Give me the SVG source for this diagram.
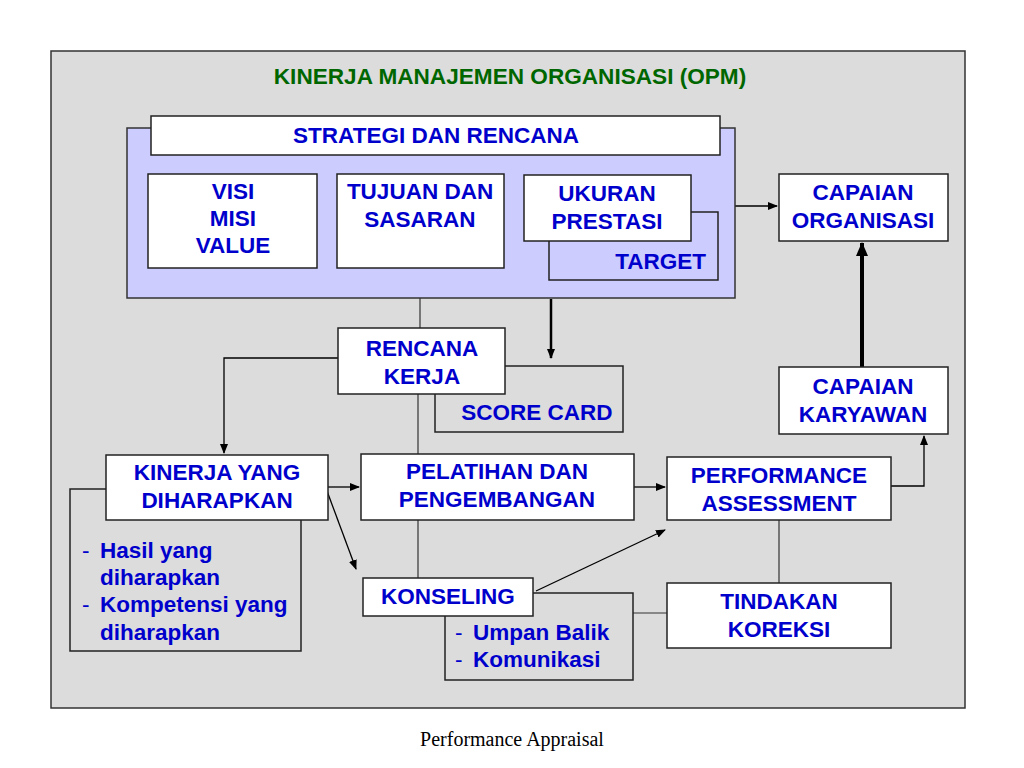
<svg xmlns="http://www.w3.org/2000/svg" width="1024" height="768" viewBox="0 0 1024 768">
<defs>
<marker id="ah" markerWidth="10" markerHeight="8" refX="9" refY="4" orient="auto" markerUnits="userSpaceOnUse"><path d="M0,0 L10,4 L0,8 z" fill="#000"/></marker>
<marker id="ahb" markerWidth="14" markerHeight="12" refX="13" refY="6" orient="auto" markerUnits="userSpaceOnUse"><path d="M0,0 L14,6 L0,12 z" fill="#000"/></marker>
<style>
.box{fill:#fff;stroke:#222;stroke-width:1.5}
.gbox{fill:#dcdcdc;stroke:#222;stroke-width:1.5}
.t{font-family:"Liberation Sans",Arial,sans-serif;font-weight:bold;font-size:22.5px;fill:#0000cc;text-anchor:middle}
.l{font-family:"Liberation Sans",Arial,sans-serif;font-weight:bold;font-size:22.5px;fill:#0000cc}
.d{font-family:"Liberation Sans",Arial,sans-serif;font-size:22.5px;fill:#0000cc}
.c{fill:none;stroke:#000;stroke-width:1.3}
.cg{fill:none;stroke:#333;stroke-width:1.2}
</style>
</defs>
<rect x="0" y="0" width="1024" height="768" fill="#fff"/>
<rect x="51" y="51" width="914" height="657" fill="#dcdcdc" stroke="#333" stroke-width="1.5"/>
<text x="510" y="84" font-family="Liberation Sans,Arial,sans-serif" font-weight="bold" font-size="22.6" fill="#006600" text-anchor="middle">KINERJA MANAJEMEN ORGANISASI (OPM)</text>

<g id="connectors">
<line class="cg" x1="420" y1="298" x2="420" y2="328"/>
<line class="cg" x1="418" y1="394" x2="418" y2="578"/>
<line class="cg" x1="779" y1="520" x2="779" y2="583"/>
<line class="cg" x1="633" y1="613" x2="667" y2="613"/>
<path class="c" d="M735,206 L777,206" marker-end="url(#ah)"/>
<path d="M862,367 L862,243" fill="none" stroke="#000" stroke-width="4" marker-end="url(#ahb)"/>
<path d="M551,299 L551,358" fill="none" stroke="#000" stroke-width="2.5" marker-end="url(#ah)"/>
<path class="c" d="M338,358 L224,358 L224,453" marker-end="url(#ah)"/>
<path class="c" d="M328,487 L359,487" marker-end="url(#ah)"/>
<path class="c" d="M327,491 L356,569" marker-end="url(#ah)"/>
<path class="c" d="M634,487 L665,487" marker-end="url(#ah)"/>
<path class="c" d="M891,486 L924,486 L924,436" marker-end="url(#ah)"/>
<path class="c" d="M536,591 L665,530" marker-end="url(#ah)"/>
</g>

<g id="strategi">
<rect x="127" y="128" width="608" height="170" fill="#ccccff" stroke="#333" stroke-width="1.5"/>
<rect class="box" x="151" y="116" width="569" height="39"/>
<text class="t" x="436" y="143">STRATEGI DAN RENCANA</text>
</g>
<g id="visi">
<rect class="box" x="148" y="174" width="169" height="94"/>
<text class="t" x="233" y="199">VISI</text>
<text class="t" x="233" y="226">MISI</text>
<text class="t" x="233" y="253">VALUE</text>
</g>
<g id="tujuan">
<rect class="box" x="337" y="174" width="167" height="94"/>
<text class="t" x="420" y="199">TUJUAN DAN</text>
<text class="t" x="420" y="227">SASARAN</text>
</g>
<g id="target">
<rect x="549" y="212" width="169" height="68" fill="#ccccff" stroke="#222" stroke-width="1.5"/>
<text class="t" x="706" y="269" style="text-anchor:end">TARGET</text>
</g>
<g id="ukuran">
<rect class="box" x="524" y="175" width="167" height="66"/>
<text class="t" x="607" y="201">UKURAN</text>
<text class="t" x="607" y="229">PRESTASI</text>
</g>
<g id="capaian-organisasi">
<rect class="box" x="779" y="174" width="169" height="67"/>
<text class="t" x="863" y="200">CAPAIAN</text>
<text class="t" x="863" y="228">ORGANISASI</text>
</g>
<g id="capaian-karyawan">
<rect class="box" x="779" y="367" width="169" height="67"/>
<text class="t" x="863" y="394">CAPAIAN</text>
<text class="t" x="863" y="422">KARYAWAN</text>
</g>
<g id="score-card">
<rect class="gbox" x="435" y="366" width="188" height="66"/>
<text class="t" x="537" y="420">SCORE CARD</text>
</g>
<g id="rencana">
<rect class="box" x="338" y="328" width="167" height="66"/>
<text class="t" x="422" y="356">RENCANA</text>
<text class="t" x="422" y="384">KERJA</text>
</g>
<g id="kinerja-list">
<rect class="gbox" x="70" y="489" width="231" height="162"/>
<text class="d" x="82" y="558">-</text>
<text class="l" x="100" y="558">Hasil yang</text>
<text class="l" x="100" y="585">diharapkan</text>
<text class="d" x="82" y="612">-</text>
<text class="l" x="100" y="612">Kompetensi yang</text>
<text class="l" x="100" y="640">diharapkan</text>
</g>
<g id="kinerja">
<rect class="box" x="106" y="455" width="222" height="65"/>
<text class="t" x="217" y="480">KINERJA YANG</text>
<text class="t" x="217" y="508">DIHARAPKAN</text>
</g>
<g id="pelatihan">
<rect class="box" x="361" y="454" width="273" height="66"/>
<text class="t" x="497" y="479">PELATIHAN DAN</text>
<text class="t" x="497" y="507">PENGEMBANGAN</text>
</g>
<g id="performance">
<rect class="box" x="667" y="457" width="224" height="63"/>
<text class="t" x="779" y="483">PERFORMANCE</text>
<text class="t" x="779" y="511">ASSESSMENT</text>
</g>
<g id="konseling-list">
<rect class="gbox" x="445" y="593" width="188" height="87"/>
<text class="d" x="455" y="640">-</text>
<text class="l" x="473" y="640">Umpan Balik</text>
<text class="d" x="455" y="667">-</text>
<text class="l" x="473" y="667">Komunikasi</text>
</g>
<g id="konseling">
<rect class="box" x="363" y="578" width="170" height="38"/>
<text class="t" x="448" y="604">KONSELING</text>
</g>
<g id="tindakan">
<rect class="box" x="667" y="583" width="224" height="65"/>
<text class="t" x="779" y="609">TINDAKAN</text>
<text class="t" x="779" y="637">KOREKSI</text>
</g>
<text x="512" y="746" font-family="Liberation Serif,Times New Roman,serif" font-size="20" fill="#000" text-anchor="middle">Performance Appraisal</text>
</svg>
